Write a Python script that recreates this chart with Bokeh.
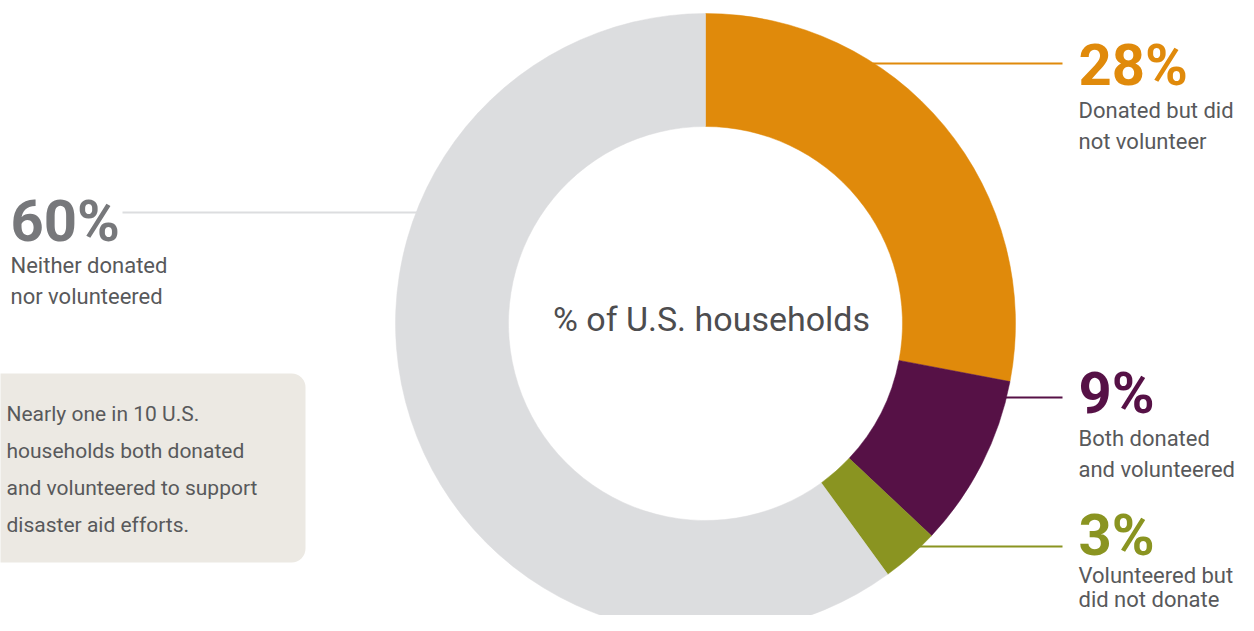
import math
from bokeh.plotting import figure
from bokeh.models import Range1d, BoxAnnotation
from bokeh.core.properties import value
from bokeh.embed import file_html
from bokeh.resources import INLINE

# ---- data ----
categories = ["Donated but did not volunteer", "Both donated and volunteered",
              "Volunteered but did not donate", "Neither donated nor volunteered"]
values = [28, 9, 3, 60]
colors = ["#E08A0B", "#561146", "#8A9421", "#DCDDDF"]
pct_colors = ["#E08A0B", "#561146", "#8A9421", "#77787B"]
label_lines = [["Donated but did", "not volunteer"],
               ["Both donated", "and volunteered"],
               ["Volunteered but", "did not donate"],
               ["Neither donated", "nor volunteered"]]
note_lines = ["Nearly one in 10 U.S.", "households both donated",
              "and volunteered to support", "disaster aid efforts."]
center_label = "% of U.S. households"

# ---- layout (picture pixel coordinates; data y = -pixel y) ----
W, H = 1238, 615
CX, CY = 705, 323
R_OUT, R_IN = 310, 197
label_x = [1078, 1078, 1078, 10]
pct_base = [85, 413, 555, 241]
line1_base = [118, 446, 583, 273]
line2_base = [149, 477, 607, 304]
leader_y = [63, 397, 546, 212]
leader_x0 = [872, 1000, 905, 122]
leader_x1 = [1062, 1062, 1062, 418]
note_base = [421, 458, 495, 532]

PCT_SIZE, BODY_SIZE, NOTE_SIZE, CENTER_SIZE = 58, 22, 21, 34
CAP = 0.711  # Roboto cap height / em


def mid(baseline, size):
    # text drawn with "middle" baseline sits centred on the cap height
    return -(baseline - CAP * size / 2)


FONT = value("Roboto")
TEXT_GRAY = "#58595B"

p = figure(width=W, height=H, x_range=Range1d(0, W), y_range=Range1d(-H, 0),
           output_backend="svg", toolbar_location=None, min_border=0,
           x_axis_type=None, y_axis_type=None)
p.grid.visible = False
p.outline_line_color = None
p.background_fill_color = "white"
p.border_fill_color = "white"

# note box (underneath the text)
p.add_layout(BoxAnnotation(left=-30, right=305, top=-373, bottom=-562,
                           fill_color="#ECE9E3", fill_alpha=1.0, line_color=None,
                           border_radius=14, level="underlay"))
p.text(x=[6] * len(note_lines), y=[mid(b, NOTE_SIZE) for b in note_base],
       text=note_lines, text_font=FONT, text_font_size=f"{NOTE_SIZE}px",
       text_color=TEXT_GRAY, text_baseline="middle", text_align="left")

# leader lines
p.segment(x0=leader_x0, y0=[-y for y in leader_y], x1=leader_x1, y1=[-y for y in leader_y],
          line_color=colors, line_width=2)

# donut
total = sum(values)
starts, ends = [], []
cum = 0
for v in values:
    starts.append(math.pi / 2 - 2 * math.pi * cum / total)
    cum += v
    ends.append(math.pi / 2 - 2 * math.pi * cum / total)
p.annular_wedge(x=CX, y=-CY, inner_radius=R_IN, outer_radius=R_OUT,
                start_angle=starts, end_angle=ends, direction="clock",
                fill_color=colors, line_color=colors, line_width=0.5)

# center label
p.text(x=[711], y=[-318], text=[center_label], text_font=FONT,
       text_font_size=f"{CENTER_SIZE}px", text_color="#4D4D4F",
       text_baseline="middle", text_align="center")

# percentage labels + descriptions
p.text(x=label_x, y=[mid(b, PCT_SIZE) for b in pct_base], text=[f"{v}%" for v in values],
       text_font=FONT, text_font_size=f"{PCT_SIZE}px", text_font_style="bold",
       text_color=pct_colors, text_baseline="middle", text_align="left")
p.text(x=label_x, y=[mid(b, BODY_SIZE) for b in line1_base], text=[l[0] for l in label_lines],
       text_font=FONT, text_font_size=f"{BODY_SIZE}px", text_color=TEXT_GRAY,
       text_baseline="middle", text_align="left")
p.text(x=label_x, y=[mid(b, BODY_SIZE) for b in line2_base], text=[l[1] for l in label_lines],
       text_font=FONT, text_font_size=f"{BODY_SIZE}px", text_color=TEXT_GRAY,
       text_baseline="middle", text_align="left")

open("out.html", "w").write(file_html(p, INLINE))
